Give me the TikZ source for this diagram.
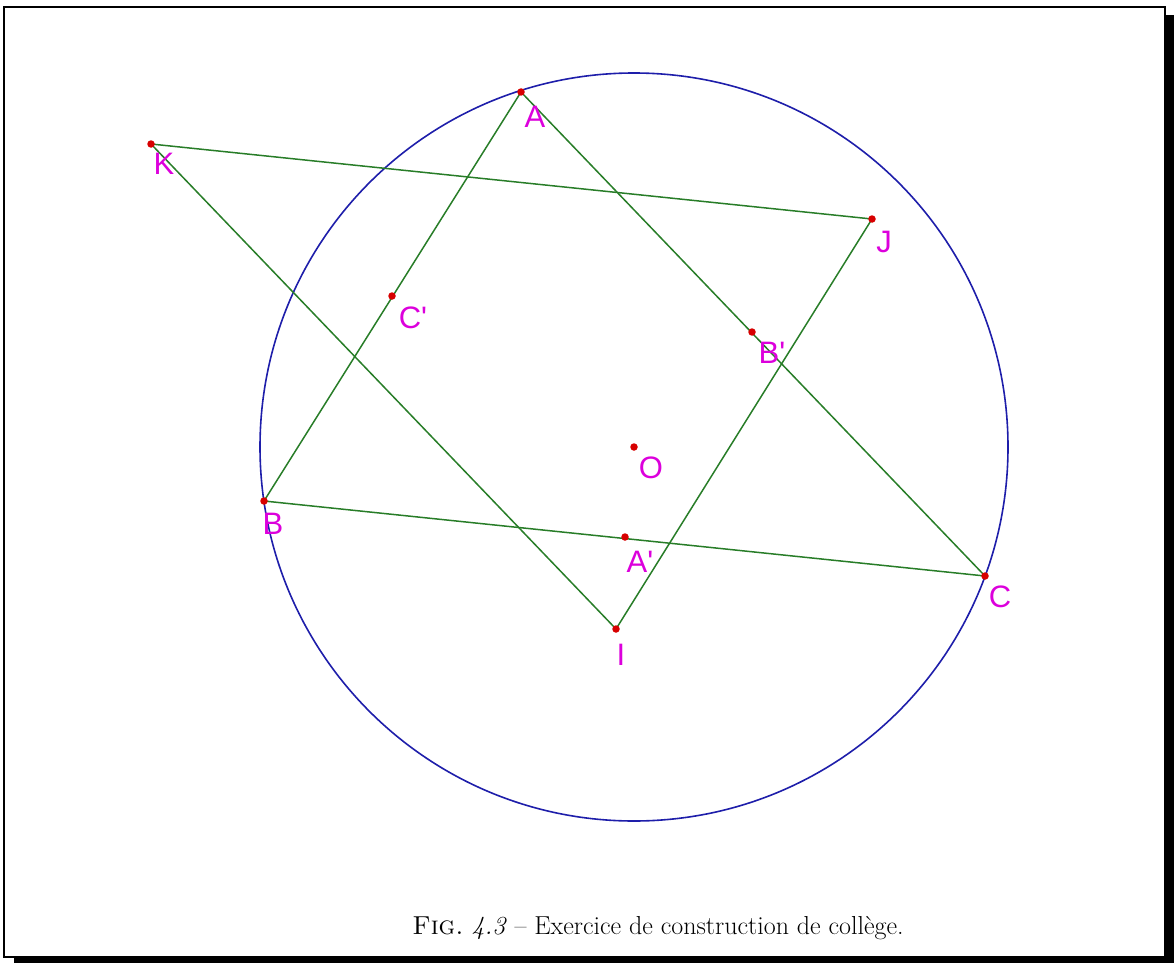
\documentclass[tikz,border=0pt]{standalone}
\usepackage{fontspec}
\newfontfamily\labelfont{Liberation Sans}
\definecolor{lgreen}{RGB}{40,125,40}
\definecolor{cblue}{RGB}{30,30,170}
\definecolor{lmag}{RGB}{220,0,220}
\definecolor{pred}{RGB}{215,0,0}
\begin{document}
\begin{tikzpicture}[x=1pt,y=-1pt,
  seg/.style={draw=lgreen,line width=1.5pt},
  circ/.style={draw=cblue,line width=1.6pt},
  pt/.style={circle,fill=pred,inner sep=0pt,minimum size=7.5pt},
  lab/.style={text=lmag,font=\labelfont\fontsize{31}{34}\selectfont,inner sep=0pt}]
\useasboundingbox (0,0) rectangle (1174,963);
% frame with shadow
\draw[line width=2pt] (4,7) rectangle (1165,957);
\fill[black] (1166,15) rectangle (1174,963);
\fill[black] (14,958) rectangle (1174,963);
% points
\coordinate (A) at (521,92);
\coordinate (K) at (151,144);
\coordinate (J) at (872,219);
\coordinate (Cp) at (392,296);
\coordinate (Bp) at (752,332);
\coordinate (O) at (634,447);
\coordinate (B) at (264,501);
\coordinate (Ap) at (625,537);
\coordinate (C) at (985,576);
\coordinate (I) at (616,629);
% circle
\draw[circ] (O) circle (374);
% segments
\draw[seg] (A) -- (B);
\draw[seg] (A) -- (C);
\draw[seg] (B) -- (C);
\draw[seg] (K) -- (J);
\draw[seg] (K) -- (I);
\draw[seg] (I) -- (J);
% dots
\foreach \p in {A,K,J,Cp,Bp,O,B,Ap,C,I} \node[pt] (d\p) at (\p) {};
% labels
\node[lab] (lA) at (535,117) {A};
\node[lab] (lK) at (164,164) {K};
\node[lab] (lJ) at (884,242) {J};
\node[lab] (lCp) at (413,318) {C'};
\node[lab] (lBp) at (772,353) {B'};
\node[lab] (lO) at (651,468) {O};
\node[lab] (lB) at (273,524) {B};
\node[lab] (lAp) at (640,562) {A'};
\node[lab] (lC) at (1000,597) {C};
\node[lab] (lI) at (621,655) {I};
% caption
\node[anchor=base,inner sep=0pt,font=\fontsize{26}{30}\selectfont] (cap) at (658,934)
  {\textsc{Fig.}~\textit{4.3} -- Exercice de construction de collège.};
\end{tikzpicture}
\end{document}
